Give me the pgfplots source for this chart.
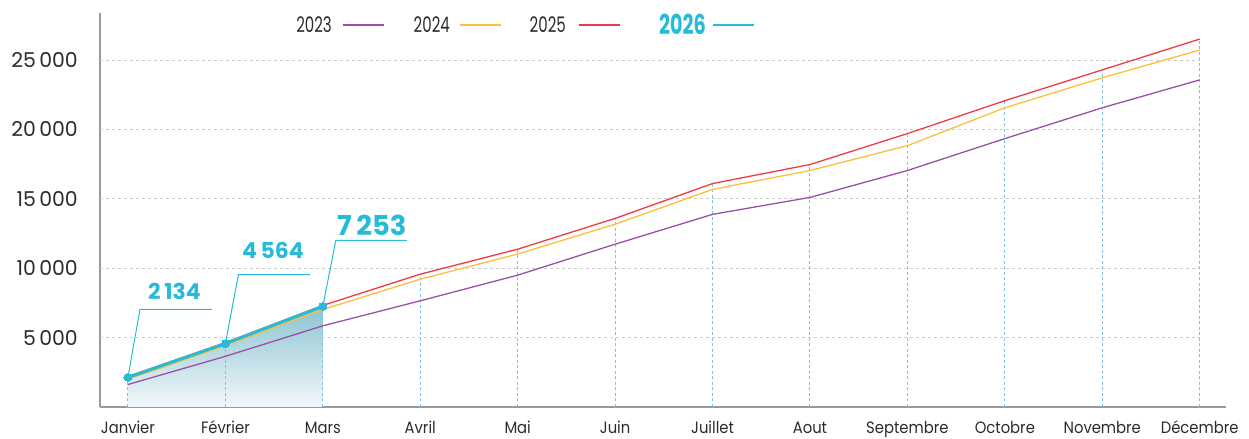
\documentclass[border=0pt]{standalone}
\usepackage{pgfplots}
\pgfplotsset{compat=1.18}
\usepackage{fontspec}
\setmainfont{Poppins}
\newfontfamily\legfont[FakeStretch=0.7]{Poppins}
\newfontfamily\xfont[FakeStretch=0.9]{Poppins}
\definecolor{c23}{HTML}{9B4FA8}
\definecolor{c24}{HTML}{FBBF3A}
\definecolor{c25}{HTML}{EE3B46}
\definecolor{c26}{HTML}{26BCD9}
\definecolor{drop}{HTML}{7CC2EC}
\definecolor{gridc}{HTML}{CCCCCC}
\definecolor{axc}{HTML}{9A9A9A}
\definecolor{txt}{HTML}{2B2B2B}
\definecolor{fillt}{HTML}{8CC3D3}
\definecolor{fillb}{HTML}{F2F8FA}

\pgfplotstableread{
x y
0 1620
1 3650
2 5850
3 7650
4 9500
5 11730
6 13880
7 15100
8 17040
9 19340
10 21560
11 23570
}\dA
\pgfplotstableread{
x y
0 2000
1 4420
2 7020
3 9210
4 11020
5 13170
6 15680
7 17040
8 18830
9 21560
10 23720
11 25720
}\dB
\pgfplotstableread{
x y
0 2200
1 4640
2 7320
3 9570
4 11370
5 13590
6 16100
7 17470
8 19700
9 22070
10 24290
11 26510
}\dC
\pgfplotstableread{
x y
0 2134
1 4564
2 7253
}\dD

\begin{document}
\begin{tikzpicture}[x=1bp,y=1bp]
\useasboundingbox (0,0) rectangle (1249,439);
\begin{axis}[
  at={(100bp,32bp)}, anchor=south west,
  scale only axis, width=1126bp, height=394bp,
  xmin=-0.287, xmax=11.27, ymin=0, ymax=28390,
  axis lines*=left,
  axis line style={axc, line width=1.2bp},
  major tick length=0pt,
  scaled y ticks=false,
  xtick={0,...,11},
  xticklabels={Janvier,Février,Mars,Avril,Mai,Juin,Juillet,Aout,Septembre,Octobre,Novembre,Décembre},
  xticklabel style={anchor=base, yshift=-27bp, inner sep=0pt, text=txt, font=\xfont\fontsize{16.5}{16.5}\selectfont},
  ytick={5000,10000,15000,20000,25000},
  yticklabels={5\,000,10\,000,15\,000,20\,000,25\,000},
  yticklabel style={anchor=east, xshift=-22bp, inner sep=0pt, text=txt, font=\fontsize{20.5}{20.5}\selectfont},
  clip=false,
]
\pgfplotsinvokeforeach{5000,10000,15000,20000,25000}{
  \draw[gridc, line width=1bp, dash pattern=on 3bp off 3bp] (axis cs:-0.287,#1) -- (axis cs:11,#1);
}
\addplot[draw=none, top color=fillt, bottom color=fillb] table[x=x,y=y] {\dD} \closedcycle;
\addplot[ycomb, drop, line width=1bp, dash pattern=on 3bp off 2.5bp] table[x=x,y=y] {\dC};
\addplot[c23, line width=1.3bp] table[x=x,y=y] {\dA};
\addplot[c24, line width=1.3bp] table[x=x,y=y] {\dB};
\addplot[c25, line width=1.3bp] table[x=x,y=y] {\dC};
\addplot[c26, line width=3bp, mark=*, mark size=4bp, mark options={fill=c26, draw=c26, line width=0pt}] table[x=x,y=y] {\dD};

\draw[c26, line width=1bp] (axis cs:0,2134) -- ++(12bp,68bp) -- ++(72bp,0bp);
\draw[c26, line width=1bp] (axis cs:1,4564) -- ++(13bp,69bp) -- ++(72bp,0bp);
\draw[c26, line width=1bp] (axis cs:2,7253) -- ++(13bp,66bp) -- ++(71bp,0bp);
\node[anchor=base, inner sep=0pt, text=c26, font=\fontsize{22}{22}\selectfont\bfseries] at ([shift={(46.5bp,78bp)}]axis cs:0,2134) {2\,134};
\node[anchor=base, inner sep=0pt, text=c26, font=\fontsize{22}{22}\selectfont\bfseries] at ([shift={(47.5bp,85bp)}]axis cs:1,4564) {4\,564};
\node[anchor=base, inner sep=0pt, text=c26, font=\fontsize{27.5}{27.5}\selectfont\bfseries] at ([shift={(49bp,71bp)}]axis cs:2,7253) {7\,253};
\end{axis}

\node[anchor=base east, inner sep=0pt, text=txt, font=\legfont\fontsize{21.5}{21.5}\selectfont] at (332,406) {2023};
\draw[c23, line width=2bp] (343,414) -- (384,414);
\node[anchor=base east, inner sep=0pt, text=txt, font=\legfont\fontsize{21.5}{21.5}\selectfont] at (450,406) {2024};
\draw[c24, line width=2bp] (460,414) -- (501,414);
\node[anchor=base east, inner sep=0pt, text=txt, font=\legfont\fontsize{21.5}{21.5}\selectfont] at (566,406) {2025};
\draw[c25, line width=2bp] (579,414) -- (620,414);
\node[anchor=base east, inner sep=0pt, text=c26, font=\legfont\fontsize{27.5}{27.5}\selectfont\bfseries] at (706,404) {2026};
\draw[c26, line width=2bp] (713,414) -- (754,414);
\end{tikzpicture}
\end{document}
